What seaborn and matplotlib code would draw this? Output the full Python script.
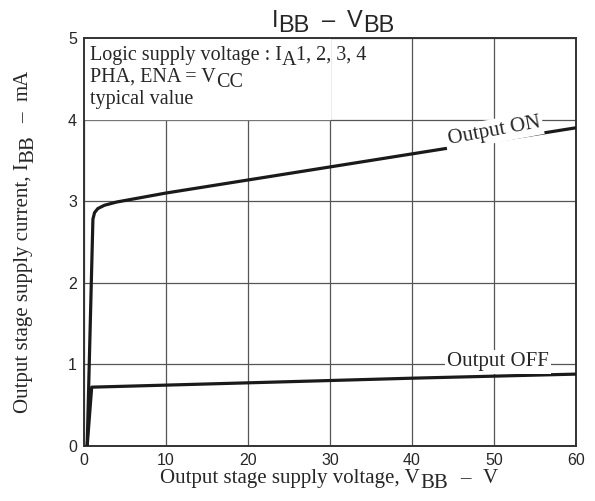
import matplotlib
matplotlib.use("Agg")
import matplotlib.pyplot as plt
import seaborn as sns
import pandas as pd

# curve readings (V_BB in V, I_BB in mA)
on_v = [0.4, 1.1, 1.3, 1.7, 2.5, 4, 10, 20, 30, 40, 50, 60]
on_i = [0.0, 2.78, 2.86, 2.91, 2.95, 2.99, 3.10, 3.26, 3.42, 3.58, 3.74, 3.90]
off_v = [0.4, 0.95, 10, 26, 40, 60]
off_i = [0.0, 0.72, 0.745, 0.79, 0.83, 0.88]

x_ticks = [0, 10, 20, 30, 40, 50, 60]
y_ticks = [0, 1, 2, 3, 4, 5]

sns.set_style("ticks")
plt.rcParams["font.family"] = ["Liberation Serif", "DejaVu Serif"]

df = pd.concat([
    pd.DataFrame({"v": on_v, "i": on_i, "state": "on"}),
    pd.DataFrame({"v": off_v, "i": off_i, "state": "off"}),
])

fig = plt.figure(figsize=(5.95, 5.01), dpi=100)
ax = fig.add_axes([0.141, 0.11, 0.827, 0.814])

sns.lineplot(data=df, x="v", y="i", units="state", estimator=None, sort=False,
             color="#1a1a1a", lw=2.3, ax=ax, zorder=3)

ax.set_xlim(0, 60)
ax.set_ylim(0, 5)
ax.set_xticks(x_ticks)
ax.set_yticks(y_ticks)
ax.set_xlabel("")
ax.set_ylabel("")
ax.grid(True, color="#555555", lw=0.9)
ax.tick_params(length=0, labelsize=11.5, pad=5)
for lab in ax.get_xticklabels() + ax.get_yticklabels():
    lab.set_family("Liberation Sans")
for s in ax.spines.values():
    s.set_visible(True)
    s.set_color("#333333")
    s.set_linewidth(1.4)

ax.text(50.0, 3.86, "Output ON", fontsize=15, rotation=10.5, ha="center", va="center",
        zorder=4, bbox=dict(boxstyle="square,pad=0.12", fc="white", ec="none"))
ax.text(50.5, 1.03, "Output OFF", fontsize=15, ha="center", va="center",
        zorder=4, bbox=dict(boxstyle="square,pad=0.12", fc="white", ec="none"))

# white panel for the condition note
ax.fill_between([0, 30], 4.01, 5, color="white", zorder=1)

renderer = fig.canvas.get_renderer()


def rich(parts, x, y, size, family, rot=0, shift=5, center=False):
    # parts: strings (normal), ("text",) tuples (subscript), numbers (gap in px)
    items = []
    pos = 0
    for p in parts:
        if isinstance(p, (int, float)):
            pos += p
            continue
        sub = isinstance(p, tuple)
        s = p[0] if sub else p
        d = shift if sub else 0
        if rot == 0:
            t = fig.text(x + pos, y - d, s, transform=None, fontsize=size,
                         family=family, ha="left", va="baseline")
            pos += t.get_window_extent(renderer).width
        else:
            t = fig.text(x + d, y + pos, s, transform=None, fontsize=size,
                         family=family, rotation=90, rotation_mode="anchor",
                         ha="left", va="baseline")
            pos += t.get_window_extent(renderer).height
        items.append(t)
    if center:
        for t in items:
            px, py = t.get_position()
            if rot == 0:
                t.set_position((px - pos / 2, py))
            else:
                t.set_position((px, py - pos / 2))
    return items


# title
rich(["I", ("BB",), 12, "–", 12, "V", ("BB",)], 333, 474, 17, "Liberation Sans",
     shift=5, center=True)
# axis labels
rich(["Output stage supply voltage, V", ("BB",), 12, "–", 12, "V"], 329, 18, 15,
     "Liberation Serif", shift=5, center=True)
rich(["Output stage supply current, I", ("BB",), 12, "–", 12, "mA"], 28, 260, 15,
     "Liberation Serif", rot=90, shift=5, center=True)
# condition note
rich(["Logic supply voltage : I", ("A",), "1, 2, 3, 4"], 90, 441, 14.5,
     "Liberation Serif", shift=5)
rich(["PHA, ENA = V", ("CC",)], 90, 419, 14.5, "Liberation Serif", shift=5)
rich(["typical value"], 90, 397, 14.5, "Liberation Serif")

fig.savefig("out.png", dpi=100)
